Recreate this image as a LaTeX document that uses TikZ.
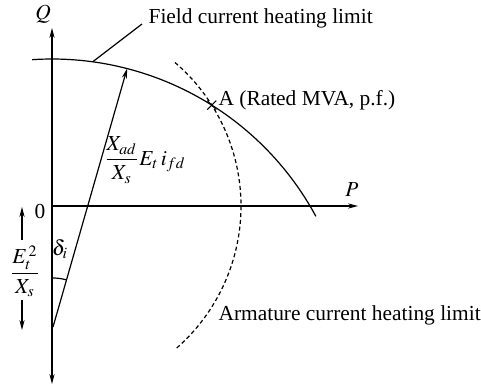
\documentclass[tikz,border=0pt]{standalone}
\usepackage{amsmath}
\usepackage{mathptmx}
\usepackage{fontspec}
\setmainfont{Liberation Serif}
\usetikzlibrary{arrows.meta,shapes.misc}
\begin{document}
\begin{tikzpicture}[x=0.5pt,y=0.5pt,
  line width=0.6pt,
  tip/.style={-{Stealth[length=5pt,width=2.6pt]}},
  twotip/.style={{Stealth[length=5pt,width=2.6pt]}-{Stealth[length=5pt,width=2.6pt]}},
  lbl/.style={font=\fontsize{10.7}{13}\selectfont, inner sep=0pt},
  armdash/.style={dash pattern=on 2pt off 1.4pt},
]
\useasboundingbox (-52,-181) rectangle (429,206);
% axes
\coordinate (O) at (0,0);
\coordinate (Qbot) at (0,-178);
\coordinate (Qtop) at (0,178);
\coordinate (Pend) at (306,0);
\draw[tip] (O) -- (Pend);
\draw[twotip] (Qbot) -- (Qtop);
\node[lbl] (Plab) at (300,16) {$P$};
\node[lbl] (Qlab) at (-9,192) {$Q$};
\node[lbl] (Olab) at (-12,-5) {0};
% field current heating limit
\coordinate (F) at (0,-153);
\draw ([shift={(93.8:300)}]F) arc[start angle=93.8,end angle=28.4,radius=300];
\coordinate (fc) at ([shift={(82.2:300)}]F);
\node[lbl, anchor=west] (flab) at (96,188) {Field current heating limit};
\draw (fc) -- ([xshift=-3pt,yshift=-3pt]flab.west);
% armature current heating limit
\draw[armdash] ([shift={(-48.7:189)}]O) arc[start angle=-48.7,end angle=49.4,radius=189];
\node[lbl, anchor=west] (arlab) at (166,-109) {Armature current heating limit};
% point A
\coordinate (A) at (159.8,100.9);
\node[cross out, draw, minimum size=4pt, inner sep=0pt, line width=0.5pt] (Amark) at (A) {};
\node[lbl, anchor=west] (alab) at (166,106) {A (Rated MVA, p.f.)};
% vector
\coordinate (V) at (1,-121);
\coordinate (Vend) at ([shift={(75.5:300)}]F);
\draw[tip] (V) -- (Vend);
\node[lbl] (vlab) at (93,46) {$\dfrac{X_{ad}}{X_s}E_t\,i_{fd}$};
% angle
\draw ([shift={(90:49)}]V) arc[start angle=90,end angle=74,radius=49];
\node[lbl] (delta) at (8,-43) {$\delta_i$};
% E^2/X
\node[lbl] (frac) at (-27,-65) {$\dfrac{E_t^{\,2}}{X_s}$};
\coordinate (ua0) at (-30,-34);
\coordinate (ua1) at (-30,-1);
\coordinate (da0) at (-30,-94);
\coordinate (da1) at (-30,-124);
\draw[tip] (ua0) -- (ua1);
\draw[tip] (da0) -- (da1);
\end{tikzpicture}
\end{document}
